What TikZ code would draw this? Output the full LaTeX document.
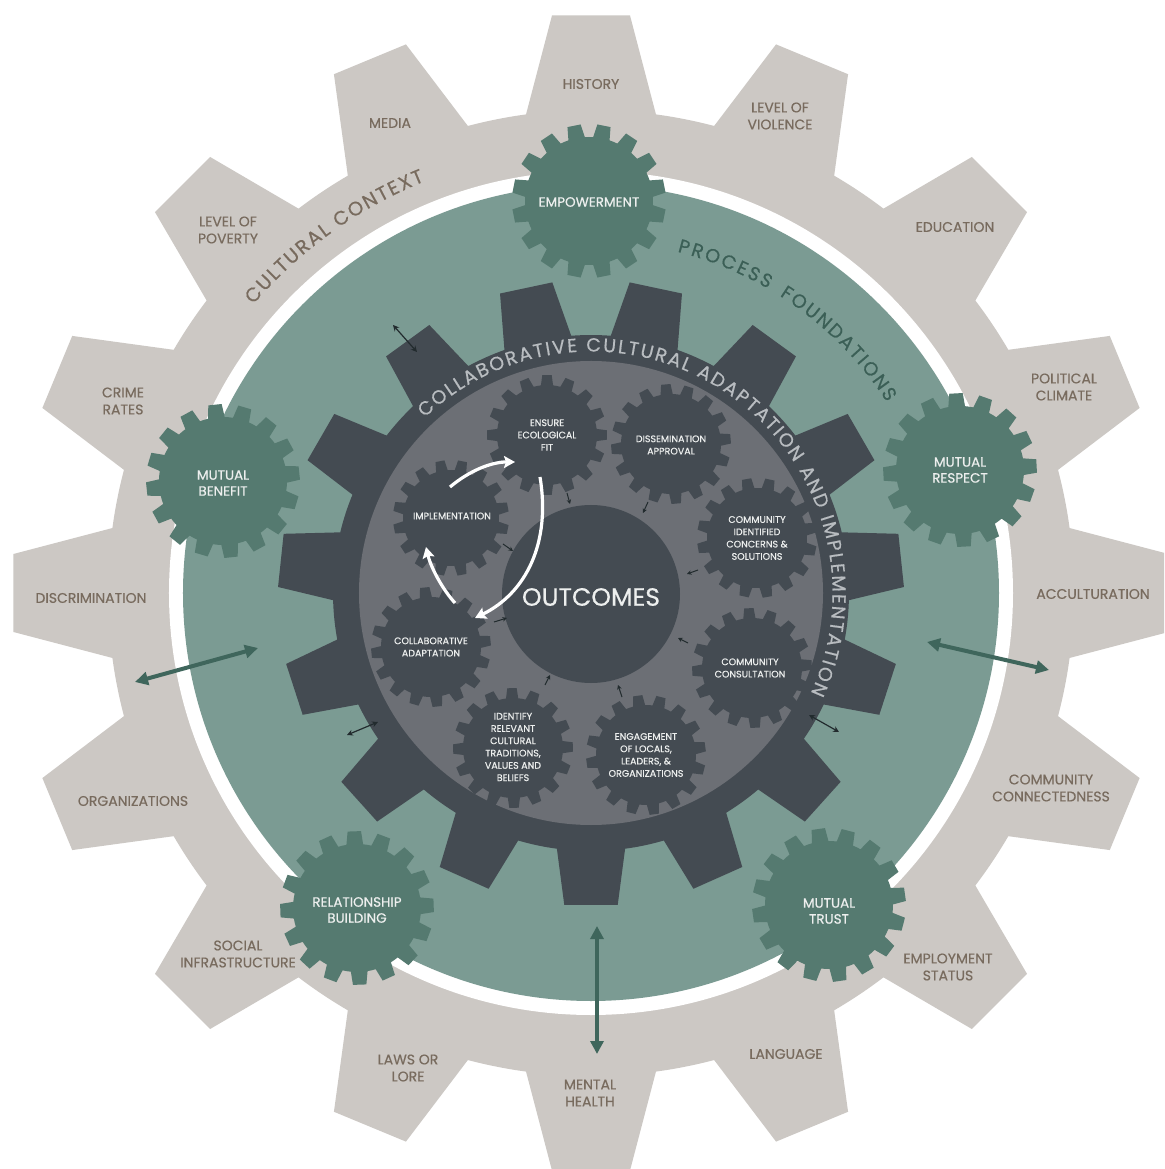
\documentclass[tikz,border=0pt]{standalone}
\usepackage{fontspec}
\newfontfamily\pop{Poppins}[FakeBold=0.5]
\usetikzlibrary{arrows.meta,decorations.text}
\definecolor{gearout}{HTML}{CCC8C4}
\definecolor{labelc}{HTML}{786B5E}
\definecolor{tealbg}{HTML}{7B9B93}
\definecolor{greengear}{HTML}{557A70}
\definecolor{darkgear}{HTML}{444B52}
\definecolor{innerdisk}{HTML}{6C6F75}
\definecolor{cctextc}{HTML}{B8BCC0}
\definecolor{proctextc}{HTML}{3B5F56}
\definecolor{gtext}{HTML}{EDEFEE}
\definecolor{tealarrow}{HTML}{3F665C}
\definecolor{darkarrow}{HTML}{222B2E}
% #1 colour, #2 centre, #3 teeth, #4 tip r, #5 root r, #6 tip half angle, #7 root half angle, #8 phase
\newcommand\mygear[8]{%
  \fill[#1,shift={(#2)}] ({#8-#7}:#5)
    \foreach \i in {1,...,#3}{
      -- ({#8+(\i-1)*360/#3-#6}:#4) -- ({#8+(\i-1)*360/#3+#6}:#4)
      -- ({#8+(\i-1)*360/#3+#7}:#5)
      arc[start angle={#8+(\i-1)*360/#3+#7}, end angle={#8+\i*360/#3-#7}, radius=#5]
    } -- cycle;}
\newcommand\cctext{\pop\fontsize{19}{19}\selectfont\color{cctextc}}
\newcommand\cultext{\pop\fontsize{19.5}{19.5}\selectfont\color{labelc}}
\newcommand\proctext{\pop\fontsize{19}{19}\selectfont\color{proctextc}}
\tikzset{
  outlbl/.style={font=\pop\fontsize{14}{17}\selectfont, text=labelc, align=center, inner sep=0pt},
  grlbl/.style={font=\pop\fontsize{13.5}{16}\selectfont, text=gtext, align=center, inner sep=0pt},
  inlbl/.style={font=\pop\fontsize{9.5}{12.3}\selectfont, text=gtext, align=center, inner sep=0pt},
  tarrow/.style={draw=tealarrow, line width=4pt, {Triangle[length=13pt,width=13pt]}-{Triangle[length=13pt,width=13pt]}},
  darrow/.style={draw=darkarrow, line width=1.2pt, {Stealth[length=6pt,width=6pt]}-{Stealth[length=6pt,width=6pt]}},
  sarrow/.style={draw=darkarrow, line width=1pt, -{Stealth[length=4.5pt,width=4.5pt]}},
  warrow/.style={draw=white, line width=3.2pt, -{Stealth[length=11pt,width=12pt,inset=2pt]}},
}
\begin{document}
\begin{tikzpicture}[x=1pt,y=1pt]
\useasboundingbox (-591,-576) rectangle (573,593);
\clip (-591,-576) rectangle (573,593);
\fill[white] (-591,-576) rectangle (573,593);
% outer context gear
\mygear{gearout}{0,0}{16}{579}{483}{3.86}{7.73}{0}
\fill[white] (0,0) circle[radius=422];
\fill[tealbg] (0,0) circle[radius=408];
% process foundation gears
\mygear{greengear}{-2,392}{16}{77}{64}{5}{7.5}{11.25}
\mygear{greengear}{369,123}{16}{77}{64}{5}{7.5}{3}
\mygear{greengear}{238,-312}{16}{77}{64}{5}{7.5}{8}
\mygear{greengear}{-234,-315}{16}{77}{64}{5}{7.5}{2}
\mygear{greengear}{-368,112}{16}{77}{64}{5}{7.5}{6}
% collaborative gear
\mygear{darkgear}{0,0}{15}{313}{258}{4.9}{7.6}{6}
\fill[innerdisk] (0,0) circle[radius=232];
% inner gears
\mygear{darkgear}{-44,158}{16}{60}{50}{4.5}{7}{0}
\mygear{darkgear}{80,149}{16}{60}{50}{4.5}{7}{5}
\mygear{darkgear}{166,55}{16}{60}{50}{4.5}{7}{10}
\mygear{darkgear}{161,-75}{16}{60}{50}{4.5}{7}{3}
\mygear{darkgear}{55,-162}{16}{60}{50}{4.5}{7}{8}
\mygear{darkgear}{-78,-155}{16}{60}{50}{4.5}{7}{1}
\mygear{darkgear}{-160,-54}{16}{60}{50}{4.5}{7}{6}
\mygear{darkgear}{-140,75}{16}{58}{48}{4.5}{7}{11}
\node[circle, fill=darkgear, minimum size=178pt, inner sep=0pt] (outcomes) at (0,-1) {};
\node[font=\pop\fontsize{25}{25}\selectfont, text=gtext] (outtxt) at (0,-4) {OUTCOMES};
% curved texts
\path[decorate, decoration={text along path, text align={fit to path},
  text={|\cctext|COLLABORATIVE CULTURAL ADAPTATION AND IMPLEMENTATION}}]
  (133.5:241.5) arc[start angle=133.5, end angle=-24.5, radius=241.5];
\path[decorate, decoration={text along path, text align={fit to path},
  text={|\cultext|CULTURAL CONTEXT}}]
  (139.5:444) arc[start angle=139.5, end angle=112, radius=444];
\path[decorate, decoration={text along path, text align={fit to path},
  text={|\proctext|PROCESS}}]
  (75.8:352) arc[start angle=75.8, end angle=59.8, radius=352];
\path[decorate, decoration={text along path, text align={fit to path},
  text={|\proctext|FOUNDATIONS}}]
  (57.6:352) arc[start angle=57.6, end angle=32.8, radius=352];
% outer labels
\node[outlbl] (history) at (0,509) {HISTORY};
\node[outlbl] (violence) at (189,477) {LEVEL OF\\VIOLENCE};
\node[outlbl] (education) at (364,366) {EDUCATION};
\node[outlbl] (political) at (473,206) {POLITICAL\\CLIMATE};
\node[outlbl] (accult) at (502,-1) {ACCULTURATION};
\node[outlbl] (commconn) at (460,-195) {COMMUNITY\\CONNECTEDNESS};
\node[outlbl] (employ) at (357,-374) {EMPLOYMENT\\STATUS};
\node[outlbl] (language) at (195,-461) {LANGUAGE};
\node[outlbl] (mental) at (-1,-500) {MENTAL\\HEALTH};
\node[outlbl] (laws) at (-183,-475) {LAWS OR\\LORE};
\node[outlbl] (social) at (-353,-361) {SOCIAL\\INFRASTRUCTURE};
\node[outlbl] (organiz) at (-458,-208) {ORGANIZATIONS};
\node[outlbl] (discrim) at (-500,-5) {DISCRIMINATION};
\node[outlbl] (crime) at (-468,192) {CRIME\\RATES};
\node[outlbl] (poverty) at (-363,363) {LEVEL OF\\POVERTY};
\node[outlbl] (media) at (-201,470) {MEDIA};
% process foundation labels
\node[grlbl] (empower) at (-2,391) {EMPOWERMENT};
\node[grlbl] (respect) at (369,123) {MUTUAL\\RESPECT};
\node[grlbl] (trust) at (238,-318) {MUTUAL\\TRUST};
\node[grlbl] (relation) at (-234,-317) {RELATIONSHIP\\BUILDING};
\node[grlbl] (benefit) at (-368,110) {MUTUAL\\BENEFIT};
% inner gear labels
\node[inlbl] (ensure) at (-44,158) {ENSURE\\ECOLOGICAL\\FIT};
\node[inlbl] (dissem) at (80,148) {DISSEMINATION\\APPROVAL};
\node[inlbl] (concerns) at (166,55) {COMMUNITY\\IDENTIFIED\\CONCERNS \&\\SOLUTIONS};
\node[inlbl] (consult) at (159,-75) {COMMUNITY\\CONSULTATION};
\node[inlbl] (engage) at (55,-162) {ENGAGEMENT\\OF LOCALS,\\LEADERS, \&\\ORGANIZATIONS};
\node[inlbl] (identify) at (-78,-154) {IDENTIFY\\RELEVANT\\CULTURAL\\TRADITIONS,\\VALUES AND\\BELIEFS};
\node[inlbl] (collab) at (-160,-54) {COLLABORATIVE\\ADAPTATION};
\node[inlbl] (implem) at (-139,77) {IMPLEMENTATION};
% connector end points
\coordinate (t1a) at (-456,-89); \coordinate (t1b) at (-333,-55);
\coordinate (t2a) at (336,-49);  \coordinate (t2b) at (458,-77);
\coordinate (t3a) at (6,-333);   \coordinate (t3b) at (6,-461);
\coordinate (d1a) at (-198,268); \coordinate (d1b) at (-174,241);
\coordinate (d2a) at (-244,-142); \coordinate (d2b) at (-213,-129);
\coordinate (d3a) at (218,-122); \coordinate (d3b) at (248,-139);
\coordinate (s1a) at (-24,100); \coordinate (s1b) at (-21,89);
\coordinate (s2a) at (57,91);   \coordinate (s2b) at (52,80);
\coordinate (s3a) at (107,23);  \coordinate (s3b) at (96,19);
\coordinate (s4a) at (97,-50);  \coordinate (s4b) at (87,-45);
\coordinate (s5a) at (31,-104); \coordinate (s5b) at (27,-92);
\coordinate (s6a) at (-46,-92); \coordinate (s6b) at (-41,-82);
\coordinate (s7a) at (-97,-29); \coordinate (s7b) at (-84,-25);
\coordinate (s8a) at (-88,49);  \coordinate (s8b) at (-78,42);
\coordinate (w1a) at (-141,106); \coordinate (w1b) at (-76,131);
\coordinate (w2a) at (-51,116);  \coordinate (w2b) at (-116,-25);
\coordinate (w3a) at (-136,-10); \coordinate (w3b) at (-165,46);
% connectors
\draw[tarrow] (t1a) -- (t1b);
\draw[tarrow] (t2a) -- (t2b);
\draw[tarrow] (t3a) -- (t3b);
\draw[darrow] (d1a) -- (d1b);
\draw[darrow] (d2a) -- (d2b);
\draw[darrow] (d3a) -- (d3b);
\foreach \k in {1,...,8}{\draw[sarrow] (s\k a) -- (s\k b);}
\draw[warrow] (w1a) .. controls (-122,122) and (-100,131) .. (w1b);
\draw[warrow] (w2a) .. controls (-40,50) and (-65,0) .. (w2b);
\draw[warrow] (w3a) .. controls (-148,3) and (-160,25) .. (w3b);
\end{tikzpicture}
\end{document}
